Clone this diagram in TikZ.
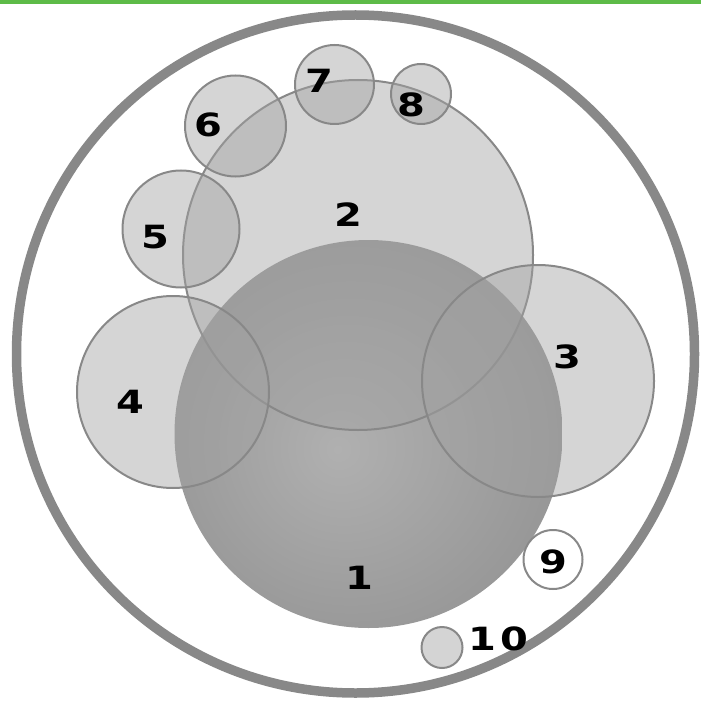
\documentclass[tikz,border=0pt]{standalone}
\usepackage{fontspec}
\newfontfamily\digitfont[FakeStretch=1.25]{DejaVu Sans}
\definecolor{greenbar}{RGB}{93,187,72}
\definecolor{ringgray}{RGB}{136,136,136}
\definecolor{strokegray}{RGB}{136,136,136}
\definecolor{fillgray}{RGB}{162,162,162}
\definecolor{lightfill}{RGB}{212,212,212}
\definecolor{sphA}{RGB}{176,176,176}
\definecolor{sphM}{RGB}{148,148,148}
\definecolor{sphB}{RGB}{124,124,124}
\pgfdeclareradialshading{sph}{\pgfpoint{-4bp}{-2bp}}{color(0bp)=(sphA); color(30bp)=(sphM); color(50bp)=(sphB)}
\tikzset{
  ring/.style={fill=ringgray, even odd rule},
  venn/.style={circle, inner sep=0pt, draw=strokegray, line width=2pt, fill=fillgray, fill opacity=0.45},
  ball/.style={circle, inner sep=0pt, shading=sph},
  lbl/.style={inner sep=0pt, text=black, font=\digitfont\bfseries\fontsize{32}{32}\selectfont}
}
\begin{document}
\begin{tikzpicture}[x=1pt,y=-1pt]
\useasboundingbox (0,0) rectangle (701,703);
\fill[greenbar] (0,0) rectangle (701,4);
\coordinate (outer) at (355.5,354);
\fill[ring] (outer) circle[radius=343.75pt] (outer) circle[radius=334.25pt];
\node[ball, minimum size=388pt] (c1) at (368.5,434) {};
\node[venn, minimum size=350pt] (c2) at (358,255) {};
\node[venn, minimum size=232pt] (c3) at (538,381) {};
\node[venn, minimum size=192pt] (c4) at (173,392) {};
\node[venn, minimum size=117pt] (c5) at (181,229) {};
\node[venn, minimum size=101pt] (c6) at (235.5,126) {};
\node[venn, minimum size=79pt] (c7) at (334.5,84.5) {};
\node[venn, minimum size=60pt] (c8) at (421,94) {};
\node[circle, inner sep=0pt, draw=strokegray, line width=2pt, fill=white, minimum size=59pt] (c9) at (553,559.5) {};
\node[circle, inner sep=0pt, draw=strokegray, line width=2pt, fill=lightfill, minimum size=41pt] (c10) at (442,647.5) {};
\node[lbl] (l1) at (359,578) {1};
\node[lbl] (l2) at (348,215) {2};
\node[lbl] (l3) at (567,357) {3};
\node[lbl] (l4) at (130,402) {4};
\node[lbl] (l5) at (155,237) {5};
\node[lbl] (l6) at (208,125) {6};
\node[lbl] (l7) at (319.5,80.5) {7};
\node[lbl] (l8) at (411,105) {8};
\node[lbl] (l9) at (553,562) {9};
\node[lbl] (l10) at (498,639) {1\hspace{4pt}0};
\end{tikzpicture}
\end{document}
